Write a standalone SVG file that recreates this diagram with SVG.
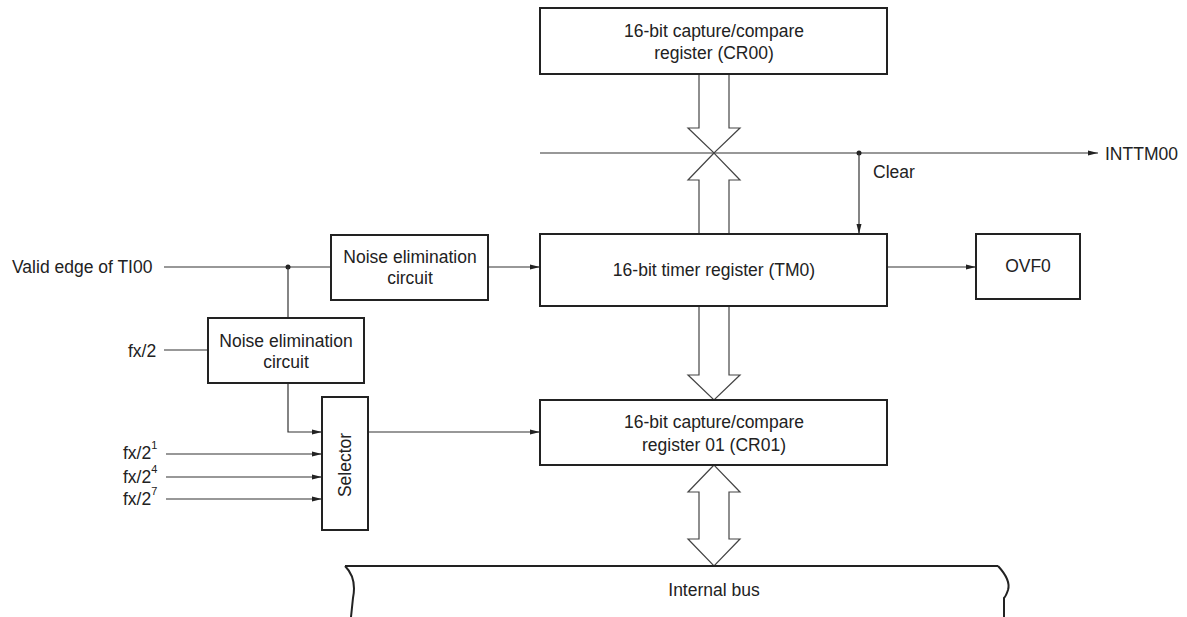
<svg xmlns="http://www.w3.org/2000/svg" width="1187" height="617" viewBox="0 0 1187 617">
  <style>
    .box { fill: #ffffff; stroke: #222222; stroke-width: 2; }
    .wire { fill: none; stroke: #333333; stroke-width: 1.2; }
    .bus { fill: #ffffff; stroke: #444444; stroke-width: 1.2; stroke-linejoin: miter; }
    .edge { fill: none; stroke: #222222; stroke-width: 2; }
    text { font-family: "Liberation Sans", Arial, sans-serif; font-size: 17.5px; fill: #222222; }
    .c { text-anchor: middle; }
    .sup { font-size: 11px; }
  </style>
  <defs>
    <marker id="arr" markerWidth="10" markerHeight="6" refX="10" refY="3" orient="auto" markerUnits="userSpaceOnUse">
      <path d="M0,0.5 L10,3 L0,5.5 z" fill="#222222"/>
    </marker>
  </defs>

  <!-- connectors -->
  <g id="connectors">
    <!-- INTTM00 / clear line -->
    <line class="wire" x1="540" y1="153" x2="1098" y2="153" marker-end="url(#arr)"/>
    <circle cx="859" cy="153" r="2.5" fill="#222222"/>
    <line class="wire" x1="859" y1="153" x2="859" y2="234" marker-end="url(#arr)"/>
    <!-- TI00 input -->
    <line class="wire" x1="164" y1="267" x2="331" y2="267"/>
    <circle cx="288" cy="267" r="2.5" fill="#222222"/>
    <line class="wire" x1="288" y1="267" x2="288" y2="318"/>
    <line class="wire" x1="489" y1="267" x2="540" y2="267" marker-end="url(#arr)"/>
    <!-- overflow -->
    <line class="wire" x1="887" y1="267" x2="976" y2="267" marker-end="url(#arr)"/>
    <!-- fx/2 -->
    <line class="wire" x1="164" y1="350" x2="208" y2="350"/>
    <!-- noise circuit to selector -->
    <polyline class="wire" points="288,383 288,432 322,432" marker-end="url(#arr)"/>
    <line class="wire" x1="166" y1="454" x2="322" y2="454" marker-end="url(#arr)"/>
    <line class="wire" x1="166" y1="477" x2="322" y2="477" marker-end="url(#arr)"/>
    <line class="wire" x1="166" y1="499" x2="322" y2="499" marker-end="url(#arr)"/>
    <!-- selector to CR01 -->
    <line class="wire" x1="368" y1="432" x2="540" y2="432" marker-end="url(#arr)"/>

    <!-- hollow bus arrows -->
    <polygon class="bus" points="699,74 699,128 688,128 714,153 740,128 729,128 729,74"/>
    <polygon class="bus" points="714,153 688,180 699,180 699,234 729,234 729,180 740,180"/>
    <polygon class="bus" points="699,306 699,375 688,375 714,400 740,375 729,375 729,306"/>
    <polygon class="bus" points="714,465 688,492 699,492 699,539 688,539 714,566 740,539 729,539 729,492 740,492"/>
  </g>

  <!-- blocks -->
  <g id="cr00">
    <rect class="box" x="540" y="8" width="347" height="66"/>
    <text class="c" x="714" y="37">16-bit capture/compare</text>
    <text class="c" x="714" y="59">register (CR00)</text>
  </g>

  <g id="tm0">
    <rect class="box" x="540" y="234" width="347" height="72"/>
    <text class="c" x="714" y="276">16-bit timer register (TM0)</text>
  </g>

  <g id="ovf0">
    <rect class="box" x="976" y="234" width="104" height="65"/>
    <text class="c" x="1028" y="272">OVF0</text>
  </g>

  <g id="cr01">
    <rect class="box" x="540" y="400" width="347" height="65"/>
    <text class="c" x="714" y="428">16-bit capture/compare</text>
    <text class="c" x="714" y="451">register 01 (CR01)</text>
  </g>

  <g id="noise1">
    <rect class="box" x="331" y="235" width="157" height="65"/>
    <text class="c" x="410" y="263">Noise elimination</text>
    <text class="c" x="410" y="284">circuit</text>
  </g>

  <g id="noise2">
    <rect class="box" x="208" y="318" width="156" height="65"/>
    <text class="c" x="286" y="347">Noise elimination</text>
    <text class="c" x="286" y="368">circuit</text>
  </g>

  <g id="selector">
    <rect class="box" x="322" y="397" width="46" height="133"/>
    <text class="c" transform="translate(351,465) rotate(-90)">Selector</text>
  </g>

  <g id="internal-bus">
    <line class="edge" x1="345" y1="566" x2="998" y2="566"/>
    <path class="edge" d="M345,566 Q357,578 353,598 L351,617"/>
    <path class="edge" d="M998,566 Q1011,580 1008,590 Q1006,596 1004,598 L1004,617"/>
    <text class="c" x="714" y="596">Internal bus</text>
  </g>

  <!-- signal labels -->
  <g id="labels">
    <text x="12" y="273">Valid edge of TI00</text>
    <text x="128" y="357">fx/2</text>
    <text x="123" y="459">fx/2<tspan class="sup" dy="-10">1</tspan></text>
    <text x="123" y="483">fx/2<tspan class="sup" dy="-10">4</tspan></text>
    <text x="123" y="505">fx/2<tspan class="sup" dy="-10">7</tspan></text>
    <text x="1105" y="160">INTTM00</text>
    <text x="873" y="178">Clear</text>
  </g>
</svg>
